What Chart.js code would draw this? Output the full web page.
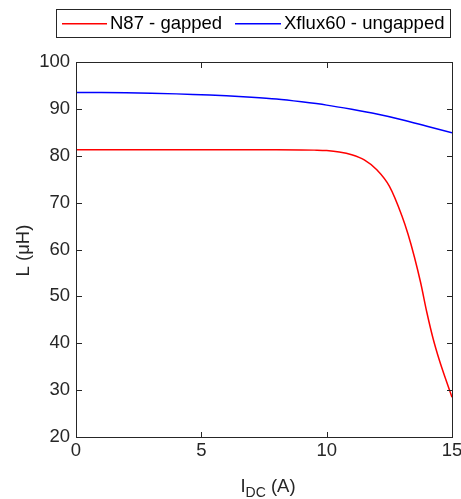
<!DOCTYPE html>
<html>
<head>
<meta charset="utf-8">
<script src="https://cdn.jsdelivr.net/npm/chart.js@4"></script>
<style>
    html, body { margin: 0; padding: 0; background: #fff; }
    #wrap { width: 461px; height: 499px; position: relative; }
</style>
</head>
<body>
<div id="wrap"><canvas id="inductanceChart"></canvas></div>
<script>
// values
const n87Current = [0, 1, 2, 3, 4, 5, 6, 7, 8, 9, 9.5, 10, 10.5, 11, 11.5, 12, 12.5, 13, 13.25, 13.5, 13.75, 14, 14.25, 14.5, 14.75, 15];
const n87Inductance = [81.3, 81.3, 81.3, 81.3, 81.3, 81.3, 81.3, 81.3, 81.3, 81.25, 81.2, 81.1, 80.8, 80.2, 79.1, 77.0, 73.5, 67.2, 63.2, 58.4, 52.9, 46.5, 40.9, 36.3, 32.3, 28.5];
const xfluxCurrent = [0, 1, 2, 3, 4, 5, 6, 7, 8, 9, 10, 11, 12, 13, 14, 15];
const xfluxInductance = [93.5, 93.5, 93.45, 93.35, 93.2, 93.0, 92.8, 92.5, 92.1, 91.5, 90.8, 89.9, 88.9, 87.7, 86.3, 84.9];
const seriesNames = ['N87 - gapped', 'Xflux60 - ungapped'];
const seriesColors = ['#ff0000', '#0000ff'];
const xTicks = [0, 5, 10, 15];
const yTicks = [20, 30, 40, 50, 60, 70, 80, 90, 100];

const axisColor = '#262626';
const fontFamily = '"Liberation Sans", Arial, sans-serif';

function toPoints(xs, ys) {
    return xs.map((x, i) => ({ x: x, y: ys[i] }));
}

const matlabLook = {
    id: 'matlabLook',
    beforeDatasetsDraw(chart) {
        // axes box: dark rectangle with white inside
        const ctx = chart.ctx;
        const a = chart.chartArea;
        const L = Math.round(a.left), R = Math.round(a.right);
        const T = Math.round(a.top), B = Math.round(a.bottom);
        ctx.save();
        ctx.fillStyle = '#000';
        ctx.font = '1px sans-serif';
        ctx.fillText('', 0, 0);
        ctx.fillStyle = axisColor;
        ctx.fillRect(L, T, R - L + 1, B - T + 1);
        ctx.fillStyle = '#ffffff';
        ctx.fillRect(L + 1, T + 1, R - L - 1, B - T - 1);
        ctx.restore();
    },
    afterDraw(chart) {
        const ctx = chart.ctx;
        const a = chart.chartArea;
        const xs = chart.scales.x;
        const ys = chart.scales.y;
        const big = '18.5px ' + fontFamily;
        const small = '14px ' + fontFamily;
        const L = Math.round(a.left), R = Math.round(a.right);
        const T = Math.round(a.top), B = Math.round(a.bottom);
        const tick = 5;
        ctx.save();
        ctx.fillStyle = '#000';
        ctx.font = big;
        ctx.fillText('', 0, 0);

        // inward ticks and box lines
        ctx.strokeStyle = axisColor;
        ctx.lineWidth = 1;
        ctx.strokeRect(L + 0.5, T + 0.5, R - L, B - T);
        ctx.beginPath();
        xTicks.forEach(v => {
            const px = Math.round(xs.getPixelForValue(v)) + 0.5;
            ctx.moveTo(px, B); ctx.lineTo(px, B - tick);
            ctx.moveTo(px, T + 1); ctx.lineTo(px, T + 1 + tick);
        });
        yTicks.forEach(v => {
            const py = Math.round(ys.getPixelForValue(v)) + 0.5;
            ctx.moveTo(L + 1, py); ctx.lineTo(L + 1 + tick, py);
            ctx.moveTo(R, py); ctx.lineTo(R - tick, py);
        });
        ctx.stroke();

        // legend
        ctx.fillStyle = axisColor;
        ctx.fillRect(56, 9, 395, 1);
        ctx.fillRect(56, 37, 395, 1);
        ctx.fillRect(56, 9, 1, 29);
        ctx.fillRect(450, 9, 1, 29);
        const items = [
            { x1: 62, x2: 107, tx: 110 },
            { x1: 235, x2: 281, tx: 284 }
        ];
        ctx.textBaseline = 'middle';
        ctx.textAlign = 'left';
        seriesNames.forEach((name, i) => {
            const it = items[i];
            ctx.fillStyle = seriesColors[i];
            ctx.fillRect(it.x1, 23, it.x2 - it.x1, 1.5);
            ctx.fillStyle = '#000';
            ctx.fillText(name, it.tx, 24);
        });

        // x title with subscript
        ctx.fillStyle = axisColor;
        ctx.textBaseline = 'alphabetic';
        ctx.font = big;
        const wI = ctx.measureText('I').width;
        const wA = ctx.measureText(' (A)').width;
        ctx.font = small;
        const wDC = ctx.measureText('DC').width;
        const sx = (a.left + a.right) / 2 - (wI + wDC + wA) / 2 + 4;
        const base = 492;
        ctx.font = big;
        ctx.fillText('I', sx, base);
        ctx.font = small;
        ctx.fillText('DC', sx + wI, base + 5);
        ctx.font = big;
        ctx.fillText(' (A)', sx + wI + wDC, base);

        // y title
        ctx.translate(29, (a.top + a.bottom) / 2 + 1);
        ctx.rotate(-Math.PI / 2);
        ctx.textAlign = 'center';
        ctx.fillText('L (\u03bcH)', 0, 0);
        ctx.restore();
    }
};

new Chart(document.getElementById('inductanceChart'), {
    type: 'line',
    data: {
        datasets: [{
            label: seriesNames[0],
            data: toPoints(n87Current, n87Inductance),
            borderColor: seriesColors[0],
            borderWidth: 1.5,
            pointRadius: 0,
            fill: false,
            cubicInterpolationMode: 'monotone'
        }, {
            label: seriesNames[1],
            data: toPoints(xfluxCurrent, xfluxInductance),
            borderColor: seriesColors[1],
            borderWidth: 1.5,
            pointRadius: 0,
            fill: false,
            cubicInterpolationMode: 'monotone'
        }]
    },
    options: {
        responsive: true,
        maintainAspectRatio: false,
        animation: false,
        layout: { padding: { left: 0, right: 9, top: 62, bottom: 0 } },
        plugins: { legend: { display: false }, tooltip: { enabled: false } },
        scales: {
            x: {
                type: 'linear',
                min: 0,
                max: 15,
                afterBuildTicks: scale => { scale.ticks = xTicks.map(v => ({ value: v })); },
                afterFit: scale => {
                    scale.height = 62;
                    scale.paddingLeft = 0;
                    scale.paddingRight = 9;
                },
                grid: { display: false, drawTicks: false },
                border: { display: true, color: axisColor, width: 1 },
                ticks: { color: axisColor, padding: 3, font: { family: fontFamily, size: 18.5 } }
            },
            y: {
                type: 'linear',
                min: 20,
                max: 100,
                afterBuildTicks: scale => { scale.ticks = yTicks.map(v => ({ value: v })); },
                afterFit: scale => { scale.width = 76; },
                grid: { display: false, drawTicks: false },
                border: { display: true, color: axisColor, width: 1 },
                ticks: { color: axisColor, padding: 6, font: { family: fontFamily, size: 18.5 } }
            }
        }
    },
    plugins: [matlabLook]
});
</script>
</body>
</html>
